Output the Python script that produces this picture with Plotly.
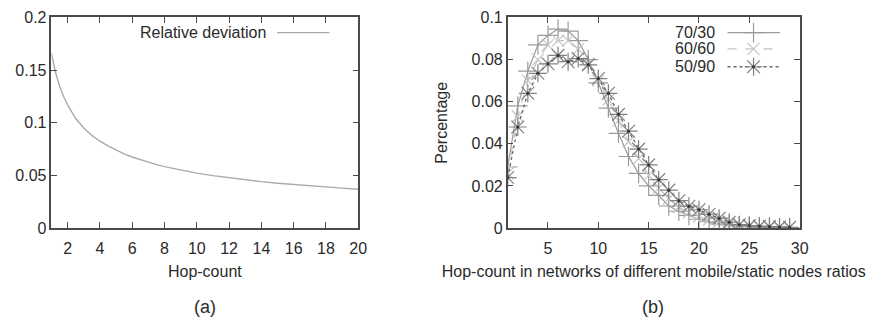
import plotly.graph_objects as go

# ---- Panel (a) data ----
hop_a = [1, 1.25, 1.5, 1.75, 2, 2.25, 2.5, 2.75, 3, 3.5, 4, 4.5, 5, 5.5, 6, 6.5, 7, 7.5, 8, 9, 10, 11, 12, 13, 14,
         15, 16, 17, 18, 19, 20]
rel_dev = [0.166, 0.148, 0.135, 0.125, 0.117, 0.110, 0.104, 0.0995, 0.095, 0.088, 0.0825, 0.078, 0.074, 0.0705,
           0.0675, 0.065, 0.0625, 0.0603, 0.0584, 0.055, 0.0522, 0.0498, 0.0477, 0.0458, 0.0441, 0.0426, 0.0413,
           0.0400, 0.0389, 0.0379, 0.0369]

# ---- Panel (b) data ----
hop_b = list(range(1, 30))
s_70_30 = [0.029, 0.058, 0.0745, 0.087, 0.0915, 0.0945, 0.0935, 0.089, 0.080, 0.069, 0.057, 0.045, 0.034,
           0.026, 0.020, 0.0155, 0.0105, 0.008, 0.006, 0.0042, 0.003, 0.002, 0.0015, 0.001, 0.0007,
           0.0005, 0.0004, 0.0003, 0.0002]
s_60_60 = [0.026, 0.053, 0.070, 0.080, 0.087, 0.089, 0.089, 0.085, 0.078, 0.070, 0.061, 0.051, 0.041,
           0.033, 0.025, 0.019, 0.014, 0.010, 0.0075, 0.0055, 0.004, 0.003, 0.002, 0.0015, 0.001,
           0.0008, 0.0005, 0.0004, 0.0003]
s_50_90 = [0.024, 0.048, 0.064, 0.0735, 0.078, 0.082, 0.079, 0.0805, 0.0775, 0.071, 0.064, 0.054, 0.046,
           0.0375, 0.030, 0.023, 0.018, 0.013, 0.0104, 0.0087, 0.0066, 0.0047, 0.0028, 0.0016, 0.0012,
           0.0009, 0.0007, 0.0005, 0.0004]

x_ticks_a = [2, 4, 6, 8, 10, 12, 14, 16, 18, 20]
y_ticks_a = [0, 0.05, 0.1, 0.15, 0.2]
y_ticklabels_a = ["0", "0.05", "0.1", "0.15", "0.2"]
x_ticks_b = [5, 10, 15, 20, 25, 30]
y_ticks_b = [0, 0.02, 0.04, 0.06, 0.08, 0.1]
y_ticklabels_b = ["0", "0.02", "0.04", "0.06", "0.08", "0.1"]

FONT = "Liberation Sans, Arial, sans-serif"
TXT = "#2a2a2a"
AXC = "#4a4a4a"

W, H = 872, 331
ax_a = (52, 362)
ax_b = (513, 808)
ay = (10, 232)
xdom_a = [ax_a[0] / W, ax_a[1] / W]
xdom_b = [ax_b[0] / W, ax_b[1] / W]
ydom = [(H - ay[1]) / H, (H - ay[0]) / H]

fig = go.Figure()

fig.add_trace(go.Scatter(x=hop_a, y=rel_dev, mode="lines", line=dict(color="#aaaaaa", width=1.4),
                         xaxis="x", yaxis="y", showlegend=False))

c70, c60, c50 = "#9a9a9a", "#c4c4c4", "#808080"
m70 = dict(symbol="cross-thin-open", size=14, color=c70, line=dict(color=c70, width=1.2))
m60 = dict(symbol="x-thin-open", size=12, color=c60, line=dict(color=c60, width=1.2))
m50 = dict(symbol="asterisk-open", size=15, color=c50, line=dict(color=c50, width=1.2))
mdot = dict(symbol="circle", size=3, color="#333333")
l70 = dict(color=c70, width=1.2)
l60 = dict(color=c60, width=1.2, dash="dash")
l50 = dict(color="#666666", width=1.3, dash="dot")

fig.add_trace(go.Scatter(x=hop_b, y=s_70_30, mode="lines+markers", line=l70, marker=m70,
                         xaxis="x2", yaxis="y2", showlegend=False))
fig.add_trace(go.Scatter(x=hop_b, y=s_60_60, mode="lines+markers", line=l60, marker=m60,
                         xaxis="x2", yaxis="y2", showlegend=False))
fig.add_trace(go.Scatter(x=hop_b, y=s_50_90, mode="lines+markers", line=l50, marker=m50,
                         xaxis="x2", yaxis="y2", showlegend=False))
fig.add_trace(go.Scatter(x=hop_b, y=s_50_90, mode="markers", marker=mdot,
                         xaxis="x2", yaxis="y2", showlegend=False))

# ---- legend keys (b) on a hidden overlay axis ----
leg_y = [0.928, 0.851, 0.766]
leg_x0, leg_x1, leg_xm = 0.753, 0.932, 0.842
for yy, ln, mk in zip(leg_y, [l70, l60, l50], [m70, m60, m50]):
    fig.add_trace(go.Scatter(x=[leg_x0, leg_x1], y=[yy, yy], mode="lines", line=ln,
                             xaxis="x3", yaxis="y3", showlegend=False))
    fig.add_trace(go.Scatter(x=[leg_xm], y=[yy], mode="markers", marker=mk,
                             xaxis="x3", yaxis="y3", showlegend=False))
fig.add_trace(go.Scatter(x=[leg_xm], y=[leg_y[2]], mode="markers", marker=mdot,
                         xaxis="x3", yaxis="y3", showlegend=False))

axis_common = dict(showline=True, linecolor=AXC, linewidth=1.5, mirror="allticks", ticks="inside",
                   ticklen=6, tickwidth=1.2, tickcolor=AXC, showgrid=False, zeroline=False,
                   tickfont=dict(family=FONT, size=16, color=TXT))

fig.update_layout(
    width=W, height=H, margin=dict(l=0, r=0, t=0, b=0),
    paper_bgcolor="white", plot_bgcolor="white",
    font=dict(family=FONT, size=16, color=TXT),
    xaxis=dict(domain=xdom_a, range=[1, 20], tickvals=x_ticks_a, anchor="y", ticklabelstandoff=5,
               title=dict(text="Hop-count", font=dict(family=FONT, size=16, color=TXT), standoff=10), **axis_common),
    yaxis=dict(domain=ydom, range=[0, 0.2], tickvals=y_ticks_a, ticktext=y_ticklabels_a, anchor="x", **axis_common),
    xaxis2=dict(domain=xdom_b, range=[1, 30], tickvals=x_ticks_b, anchor="y2", ticklabelstandoff=5,
                title=dict(text="Hop-count in networks of different mobile/static nodes ratios",
                           font=dict(family=FONT, size=16, color=TXT), standoff=10), **axis_common),
    yaxis2=dict(domain=ydom, range=[0, 0.1], tickvals=y_ticks_b, ticktext=y_ticklabels_b, anchor="x2",
                title=dict(text="Percentage", font=dict(family=FONT, size=16, color=TXT), standoff=20), **axis_common),
    xaxis3=dict(overlaying="x2", range=[0, 1], visible=False, anchor="y3"),
    yaxis3=dict(overlaying="y2", range=[0, 1], visible=False, anchor="x3"),
)

# legend (a): text + line sample
fig.add_annotation(text="Relative deviation", xref="x domain", yref="y domain", x=0.705, y=0.928,
                   xanchor="right", yanchor="middle", showarrow=False, font=dict(family=FONT, size=16, color=TXT))
fig.add_shape(type="line", xref="x domain", yref="y domain", x0=0.735, x1=0.906, y0=0.928, y1=0.928,
              line=dict(color="#aaaaaa", width=1.4))

for lab, yy in zip(["70/30", "60/60", "50/90"], leg_y):
    fig.add_annotation(text=lab, xref="x2 domain", yref="y2 domain", x=0.718, y=yy,
                       xanchor="right", yanchor="middle", showarrow=False,
                       font=dict(family=FONT, size=16, color=TXT))

fig.add_annotation(text="(a)", xref="paper", yref="paper", x=207 / W, y=(H - 315) / H,
                   xanchor="center", yanchor="middle", showarrow=False, font=dict(family=FONT, size=18, color=TXT))
fig.add_annotation(text="(b)", xref="paper", yref="paper", x=660 / W, y=(H - 315) / H,
                   xanchor="center", yanchor="middle", showarrow=False, font=dict(family=FONT, size=18, color=TXT))

fig.write_html("out.html")
